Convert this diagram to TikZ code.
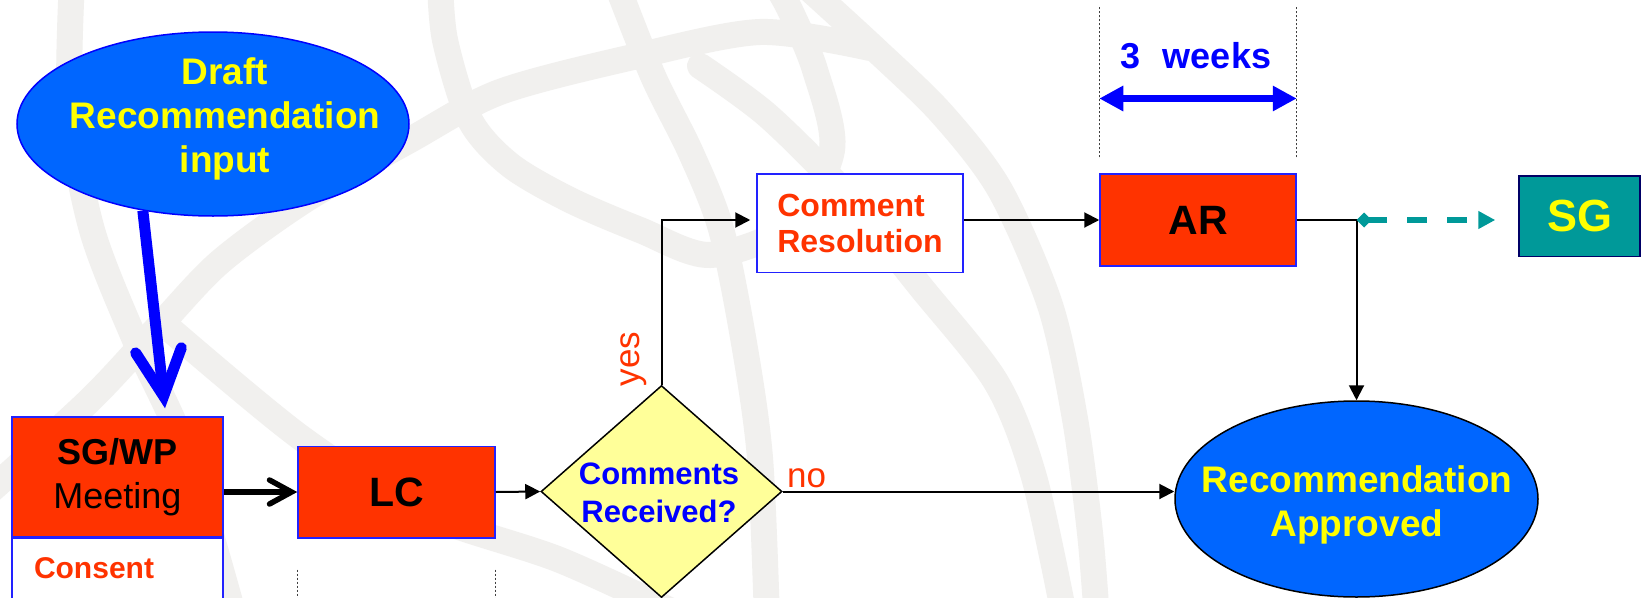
\documentclass[tikz,border=0pt]{standalone}
\usepackage{fontspec}
\setmainfont{Liberation Sans}
\usetikzlibrary{arrows.meta,shapes.geometric,calc}
\definecolor{boxred}{HTML}{FF3300}
\definecolor{ovalblue}{HTML}{0066FF}
\definecolor{pureblue}{HTML}{0000FF}
\definecolor{bordblue}{HTML}{2222FF}
\definecolor{txtyellow}{HTML}{FFFF00}
\definecolor{dyellow}{HTML}{FFFF99}
\definecolor{tealc}{HTML}{009999}
\definecolor{sgborder}{HTML}{000066}
\definecolor{wm}{HTML}{F1F0EE}
\newcommand{\myfs}[2]{\fontsize{#1}{#2}\selectfont}
\tikzset{
  wmband/.style={draw=wm, line width=26pt, line cap=round},
  redbox/.style={draw=bordblue, line width=1.5pt, fill=boxred, inner sep=0pt},
  whitebox/.style={draw=bordblue, line width=1.5pt, fill=white, inner sep=0pt},
  oval/.style={ellipse, line width=1.5pt, fill=ovalblue, inner sep=0pt},
  ytext/.style={text=txtyellow, align=center, inner sep=0pt},
  flow/.style={draw=black, line width=2pt, -{Triangle[length=15pt,width=15pt]}},
  guide/.style={draw=black!75, line width=1pt, dash pattern=on 2pt off 2pt},
  lbl/.style={text=boxred, inner sep=0pt, font=\myfs{35}{35}}
}
\begin{document}
\begin{tikzpicture}[x=1pt,y=-1pt]
\useasboundingbox (0,0) rectangle (1643,597);
\fill[white] (0,0) rectangle (1643,597);
% watermark
\begin{scope}
\clip (0,0) rectangle (1643,597);
\draw[wmband] plot[smooth] coordinates {(72,-20) (70,110) (92,230) (135,340) (185,450) (235,620)};
\draw[wmband] plot[smooth] coordinates {(870,48) (760,32) (633,57) (500,92) (410,140) (305,200) (220,262) (160,325) (90,400) (-20,500)};
\draw[wmband] plot[smooth] coordinates {(165,325) (300,437) (420,512) (560,560) (690,620)};
\draw[wmband] plot[smooth] coordinates {(440,-20) (445,40) (470,120) (510,165) (570,200) (640,230) (710,255) (790,225) (832,150) (815,70) (790,10) (770,-25)};
\draw[wmband] plot[smooth] coordinates {(805,-15) (875,49) (942,114) (1000,190) (1050,305) (1075,419) (1090,533) (1097,620)};
\draw[wmband] plot[smooth] coordinates {(615,-20) (653,76) (691,153) (721,229) (744,343) (760,458) (767,620)};
\draw[wmband] plot[smooth] coordinates {(700,66) (767,115) (843,191) (920,286) (996,382) (1034,477) (1065,620)};
\end{scope}
% nodes
\node[oval, draw=pureblue, minimum width=392pt, minimum height=184pt] (draft) at (213,124) {};
\node[ytext, font=\myfs{37}{44}\bfseries] (drafttxt) at (225,119) {Draft\\Recommendation\\input};
\node[redbox, minimum width=211pt, minimum height=120pt, align=center, font=\myfs{36}{44}] (sgwp) at (117.5,477) {\textbf{SG/WP}\\Meeting};
\node[whitebox, anchor=north, minimum height=60pt, text width=167pt, inner xsep=22pt, align=left, text=boxred, font=\myfs{30}{30}\bfseries] (consent) at (sgwp.south) {Consent};
\node[redbox, minimum width=197pt, minimum height=91.5pt, font=\myfs{41}{41}\bfseries] (lc) at (396.5,492) {LC};
\node[diamond, draw=black, line width=1.5pt, fill=dyellow, minimum width=241pt, minimum height=212pt, inner sep=0pt] (dia) at (661.5,491.5) {};
\node[text=pureblue, align=center, inner sep=0pt, font=\myfs{31}{38}\bfseries] (diatxt) at (659,493) {Comments\\Received?};
\node[whitebox, minimum width=206pt, minimum height=98.5pt, align=left, text=boxred, font=\myfs{32}{36}\bfseries] (commres) at (860,223) {Comment\\Resolution};
\node[redbox, minimum width=196pt, minimum height=92pt, font=\myfs{41}{41}\bfseries] (ar) at (1198,220) {AR};
\node[draw=sgborder, line width=1.5pt, fill=tealc, inner sep=0pt, minimum width=121pt, minimum height=80.5pt, text=txtyellow, font=\myfs{45}{45}\bfseries] (sg) at (1579.5,216) {SG};
\node[oval, draw=black, minimum width=363pt, minimum height=196pt] (recapp) at (1356.5,499) {};
\node[ytext, font=\myfs{37}{44}\bfseries] (recapptxt) at (1357,505) {Recommendation\\Approved};
\node[text=pureblue, inner sep=0pt, font=\myfs{36}{36}\bfseries] (weeks) at (1196,55.5) {3\hspace{22pt}weeks};
\node[lbl, rotate=90] (yes) at (634,359) {yes};
\node[lbl, anchor=base west] (no) at (787,487) {no};
\coordinate (dimy) at (0,98.5);
% guides
\draw[guide] ($(ar.north west)+(0,-16)$) -- ($(ar.north west)+(0,-167)$);
\draw[guide] ($(ar.north east)+(0,-16)$) -- ($(ar.north east)+(0,-167)$);
\draw[guide] ($(lc.south west)+(0,31)$) -- ($(lc.south west)+(0,62)$);
\draw[guide] ($(lc.south east)+(0,31)$) -- ($(lc.south east)+(0,62)$);
% connectors
\draw[pureblue, line width=11pt, -{Straight Barb[length=46pt,width=46pt,line cap=round,line join=miter]}] (draft.231) -- ($(sgwp.north)+(47.5,-8)$);
\draw[black, line width=5.5pt, -{Straight Barb[length=22pt,width=24pt,line cap=round,line join=miter]}] (sgwp.east |- lc.west) -- (lc.west);
\draw[flow] (lc.east) -- (dia.west);
\draw[flow, shorten >=6pt] (dia.north) |- (commres.west |- ar.west);
\draw[flow] (commres.east |- ar.west) -- (ar.west);
\draw[flow] (dia.east) -- (dia.east -| recapp.west);
\draw[flow] (ar.east) -| (recapp.north);
\draw[tealc, line width=6pt, dash pattern=on 20pt off 20pt, {Turned Square[length=15pt,width=15pt]}-{Triangle[length=17pt,width=17pt]}, shorten >=23pt] (ar.east -| recapp.north) -- (sg.west |- ar.east);
\draw[pureblue, line width=7.5pt, {Triangle[length=24pt,width=24pt]}-{Triangle[length=24pt,width=24pt]}] (ar.west |- dimy) -- (ar.east |- dimy);
\end{tikzpicture}
\end{document}
